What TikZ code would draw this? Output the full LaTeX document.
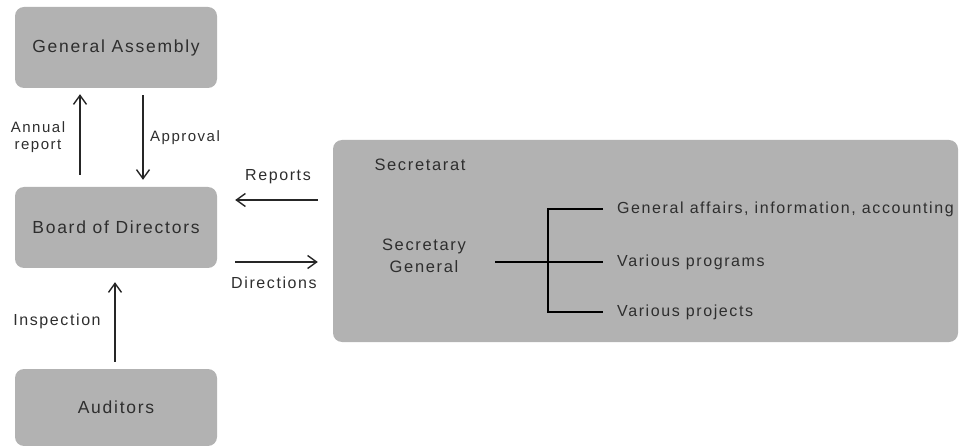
\documentclass[tikz,border=0pt]{standalone}
\usepackage{fontspec}
\setmainfont{Liberation Sans}[LetterSpace=10]
\usetikzlibrary{arrows.meta}
\definecolor{boxfill}{HTML}{B2B2B2}
\definecolor{ink}{HTML}{2E2E2E}
\tikzset{
  orgbox/.style={fill=boxfill, rounded corners=9pt, draw=none, text=ink,
    font=\fontsize{17.5}{21}\selectfont, inner sep=0pt},
  lbl/.style={text=ink, font=\fontsize{16}{17}\selectfont, inner sep=0pt},
  item/.style={text=ink, font=\fontsize{16}{19}\selectfont, inner sep=2pt, anchor=west},
  flow/.style={draw=black!85, line width=2.2pt,
    -{Straight Barb[length=9pt,width=13pt,line width=1.4pt]}},
  brk/.style={draw=black, line width=2.2pt}
}
\begin{document}
\begin{tikzpicture}[x=1pt,y=-1pt]
\useasboundingbox (0,0) rectangle (961,446);

% governing bodies
\node[orgbox, minimum width=202pt, minimum height=81pt] (ga) at (116,47.5) {General Assembly};
\node[orgbox, minimum width=202pt, minimum height=81pt] (bod) at (116,227.5) {Board of Directors};
\node[orgbox, minimum width=202pt, minimum height=77pt] (aud) at (116,407.5) {Auditors};

% secretariat panel
\node[orgbox, minimum width=625pt, minimum height=202pt] (sec) at (645.5,241) {};
\node[lbl, font=\fontsize{16.5}{19}\selectfont] (sect) at (420,165) {Secretarat};
\node[lbl, align=center, font=\fontsize{16.5}{22}\selectfont] (sg) at (424,256) {Secretary\\General};
\node[item] (i1) at (615,209) {General affairs, information, accounting};
\node[item] (i2) at (615,262) {Various programs};
\node[item] (i3) at (615,312) {Various projects};

% bracket from the Secretary General to the units
\draw[brk] ([xshift=-12pt]i1.west) -| ([xshift=-67pt]i3.west) -- ([xshift=-12pt]i3.west);
\draw[brk] ([xshift=-120pt]i2.west) -- ([xshift=-12pt]i2.west);

% reporting lines
\draw[flow] ([xshift=-36pt,yshift=12pt]bod.north) -- ([xshift=-36pt,yshift=-6pt]ga.south);
\draw[flow] ([xshift=27pt,yshift=-7pt]ga.south) -- ([xshift=27pt,yshift=7pt]bod.north);
\draw[flow] ([xshift=-1pt,yshift=7pt]aud.north) -- ([xshift=-1pt,yshift=-14pt]bod.south);
\draw[flow] ([xshift=-15pt,yshift=41pt]sec.west) -- ([xshift=18pt,yshift=27.5pt]bod.east);
\draw[flow] ([xshift=18pt,yshift=-34.5pt]bod.east) -- ([xshift=-15pt,yshift=-21pt]sec.west);

% arrow labels
\node[lbl, align=center, font=\fontsize{15}{17}\selectfont] (lar) at (38,137) {Annual\\report};
\node[lbl, anchor=west, font=\fontsize{15}{17}\selectfont] (lap) at (150,138) {Approval};
\node[lbl] (lin) at (57,321) {Inspection};
\node[lbl] (lre) at (278,177) {Reports};
\node[lbl] (ldi) at (274,283) {Directions};
\end{tikzpicture}
\end{document}
